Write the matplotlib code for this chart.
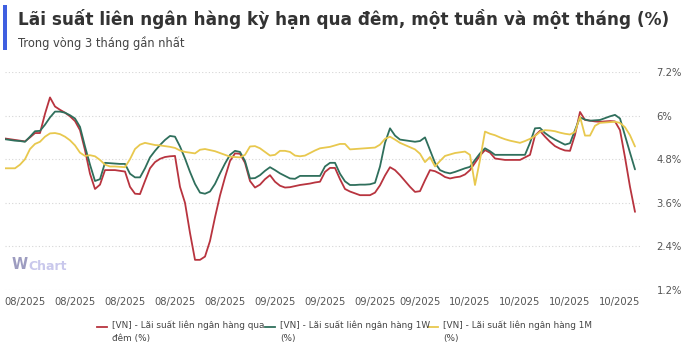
import matplotlib
matplotlib.use("Agg")
import matplotlib.pyplot as plt
from matplotlib.lines import Line2D
from matplotlib.patches import Rectangle

# ---- data (percent), one reading per step along the time axis ----
overnight = [
    5.37, 5.35, 5.33, 5.31, 5.29, 5.40, 5.52, 5.52, 6.05, 6.50,
    6.25, 6.16, 6.08, 5.98, 5.85, 5.60, 5.05, 4.40, 3.98, 4.10,
    4.50, 4.50, 4.50, 4.48, 4.46, 4.04, 3.85, 3.84, 4.20, 4.55,
    4.72, 4.81, 4.86, 4.88, 4.89, 4.04, 3.60, 2.77, 2.03, 2.03,
    2.12, 2.55, 3.20, 3.80, 4.30, 4.75, 4.96, 4.95, 4.70, 4.20,
    4.02, 4.10, 4.25, 4.36, 4.18, 4.07, 4.02, 4.03, 4.06, 4.09,
    4.11, 4.13, 4.16, 4.18, 4.45, 4.56, 4.56, 4.25, 3.98, 3.91,
    3.86, 3.81, 3.81, 3.81, 3.88, 4.08, 4.35, 4.58, 4.50, 4.36,
    4.20, 4.04, 3.90, 3.92, 4.22, 4.50, 4.47, 4.40, 4.31, 4.27,
    4.30, 4.32, 4.38, 4.50, 4.70, 4.90, 5.05, 4.98, 4.82, 4.80,
    4.78, 4.78, 4.78, 4.78, 4.85, 4.92, 5.45, 5.58, 5.42, 5.28,
    5.16, 5.09, 5.04, 5.03, 5.47, 6.10, 5.88, 5.86, 5.84, 5.83,
    5.84, 5.85, 5.84, 5.60, 4.85, 4.04, 3.35,
]
one_week = [
    5.35, 5.33, 5.31, 5.30, 5.28, 5.42, 5.57, 5.58, 5.75, 5.95,
    6.11, 6.11, 6.08, 6.01, 5.92, 5.69, 5.15, 4.65, 4.20, 4.25,
    4.70, 4.69, 4.68, 4.67, 4.67, 4.40, 4.30, 4.30, 4.55, 4.85,
    5.03, 5.19, 5.33, 5.44, 5.42, 5.15, 4.82, 4.45, 4.12, 3.88,
    3.85, 3.91, 4.12, 4.41, 4.68, 4.92, 5.03, 5.00, 4.75, 4.27,
    4.28, 4.36, 4.48, 4.58, 4.50, 4.41, 4.34, 4.27, 4.26, 4.34,
    4.34, 4.34, 4.34, 4.34, 4.60, 4.70, 4.70, 4.40, 4.19, 4.09,
    4.09, 4.10, 4.10, 4.11, 4.15, 4.60, 5.25, 5.65, 5.45, 5.34,
    5.32, 5.30, 5.28, 5.30, 5.40, 5.05, 4.70, 4.50, 4.44, 4.41,
    4.45, 4.50, 4.55, 4.59, 4.78, 4.96, 5.10, 5.02, 4.92, 4.92,
    4.92, 4.92, 4.92, 4.92, 4.92, 5.25, 5.65, 5.66, 5.52, 5.42,
    5.34, 5.27, 5.20, 5.24, 5.60, 5.95, 5.89, 5.86, 5.87, 5.88,
    5.93, 5.98, 6.02, 5.92, 5.45, 4.98, 4.52,
]
one_month = [
    4.55, 4.55, 4.55, 4.65, 4.80, 5.08, 5.22, 5.28, 5.42, 5.51,
    5.52, 5.49, 5.42, 5.32, 5.18, 4.98, 4.89, 4.91, 4.88, 4.78,
    4.65, 4.60, 4.60, 4.59, 4.58, 4.80, 5.08, 5.20, 5.25, 5.22,
    5.19, 5.18, 5.16, 5.14, 5.11, 5.04, 5.00, 4.98, 4.96, 5.06,
    5.08, 5.05, 5.02, 4.97, 4.92, 4.87, 4.86, 4.85, 4.92, 5.15,
    5.16, 5.10, 5.00, 4.90, 4.92, 5.03, 5.03, 5.00, 4.90, 4.88,
    4.90, 4.97, 5.04, 5.10, 5.12, 5.14, 5.18, 5.22, 5.22, 5.07,
    5.08, 5.09, 5.10, 5.11, 5.12, 5.20, 5.36, 5.42, 5.34, 5.25,
    5.19, 5.13, 5.07, 4.95, 4.72, 4.86, 4.60, 4.75, 4.89, 4.93,
    4.97, 4.99, 5.01, 4.92, 4.09, 4.78, 5.56, 5.50, 5.46, 5.40,
    5.35, 5.31, 5.28, 5.25, 5.30, 5.36, 5.44, 5.55, 5.60, 5.59,
    5.57, 5.53, 5.50, 5.48, 5.55, 5.97, 5.45, 5.45, 5.72, 5.80,
    5.81, 5.82, 5.83, 5.80, 5.68, 5.46, 5.15,
]
series_names = [
    "[VN] - Lãi suất liên ngân hàng qua\nđêm (%)",
    "[VN] - Lãi suất liên ngân hàng 1W\n(%)",
    "[VN] - Lãi suất liên ngân hàng 1M\n(%)",
]
tick_positions = [4, 14, 24, 34, 44, 54, 64, 74, 83, 93, 103, 113, 123]
tick_labels = ["08/2025"] * 5 + ["09/2025"] * 4 + ["10/2025"] * 4
y_ticks = [1.2, 2.4, 3.6, 4.8, 6.0, 7.2]
y_tick_labels = ["1.2%", "2.4%", "3.6%", "4.8%", "6%", "7.2%"]
title = "Lãi suất liên ngân hàng kỳ hạn qua đêm, một tuần và một tháng (%)"
subtitle = "Trong vòng 3 tháng gần nhất"

colors = ["#b8343f", "#2f6f5c", "#e8c84e"]

W, H = 700, 353
fig = plt.figure(figsize=(W / 100, H / 100), dpi=100)
fig.patch.set_facecolor("white")
plt.rcParams["font.family"] = ["DejaVu Sans"]

# axes placed in pixel terms
left, right, top, bottom = 5, 640, 72, 290
ax = fig.add_axes([left / W, 1 - bottom / H, (right - left) / W, (bottom - top) / H])
ax.set_facecolor("white")

xs = list(range(len(overnight)))
for data, c in zip([overnight, one_week, one_month], colors):
    ax.plot(xs, data, color=c, lw=1.3, solid_joinstyle="round", solid_capstyle="round", zorder=3)

ax.set_xlim(0, 127)
ax.set_ylim(1.2, 7.2)
ax.set_yticks(y_ticks)
ax.set_yticklabels(y_tick_labels)
ax.yaxis.tick_right()
ax.set_xticks(tick_positions)
ax.set_xticklabels(tick_labels)
ax.tick_params(axis="both", length=0, labelsize=7.2, colors="#555555")
ax.tick_params(axis="y", pad=12)
ax.tick_params(axis="x", pad=5)
ax.grid(axis="y", color="#d6d6d6", linestyle=(0, (1, 2)), lw=0.8)
for s in ax.spines.values():
    s.set_visible(False)

# watermark
ax.text(0.011, 0.115, "W", transform=ax.transAxes, fontsize=10.5, fontweight="bold",
        color="#9d9cc0", ha="left", va="center", zorder=1)
ax.text(0.037, 0.108, "Chart", transform=ax.transAxes, fontsize=9, fontweight="bold",
        color="#c9c8ec", ha="left", va="center", zorder=1)

# title block
fig.add_artist(Rectangle((3 / W, 1 - 50 / H), 4 / W, 45 / H, transform=fig.transFigure,
                         facecolor="#3f5fe0", edgecolor="none"))
fig.text(18 / W, 1 - 19 / H, title, fontsize=12.2, fontweight="bold", color="#333333",
         ha="left", va="center")
fig.text(18 / W, 1 - 43 / H, subtitle, fontsize=8.3, color="#444444", ha="left", va="center")

# legend (manual layout)
legend_x = [97, 265, 428]
for lx, name, c in zip(legend_x, series_names, colors):
    fig.add_artist(Line2D([lx / W, (lx + 10) / W], [1 - 327 / H, 1 - 327 / H],
                          transform=fig.transFigure, color=c, lw=1.3))
    fig.text((lx + 15) / W, 1 - 321 / H, name, fontsize=6.4, color="#444444",
             ha="left", va="top", linespacing=1.45)

fig.savefig("out.png", dpi=100, facecolor="white")
